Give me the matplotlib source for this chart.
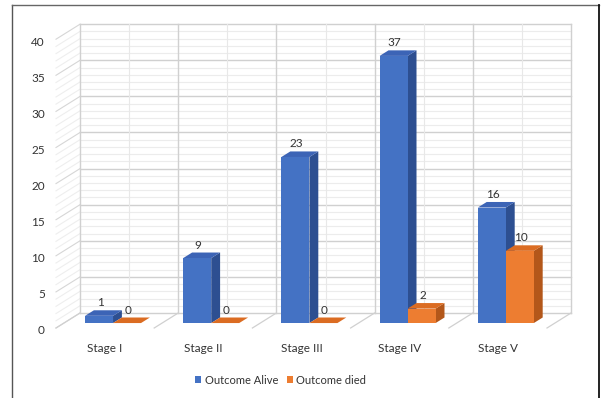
import matplotlib
matplotlib.use("Agg")
import matplotlib.pyplot as plt
from matplotlib.patches import Polygon, Patch
from matplotlib.lines import Line2D

# chart data
stages = ["Stage I", "Stage II", "Stage III", "Stage IV", "Stage V"]
alive = [1, 9, 23, 37, 16]
died = [0, 0, 0, 2, 10]
y_ticks = [0, 5, 10, 15, 20, 25, 30, 35, 40]
series_names = ["Outcome Alive", "Outcome died"]

plt.rcParams["font.family"] = ["Lato", "DejaVu Sans"]

# pixel scale of one category / one value unit on the back wall
PX_X = 98.2
PX_Y = 7.22
# oblique depth offset (wall -> front), in data units
DX = 24 / PX_X
DY = 15 / PX_Y
BAR_W = 0.285
F_FRONT, F_BACK = 0.67, 0.30
TXT = "#333333"

blue = {"front": "#4472C4", "side": "#2D4F91", "top": "#3C64B6"}
orange = {"front": "#ED7D31", "side": "#B3571A", "top": "#DB6C22"}


def proj(x, y, f):
    # f = 0 on back wall, 1 on front edge of the floor
    return (x - f * DX, y - f * DY)


fig = plt.figure(figsize=(6.06, 3.98), dpi=100)
ax = fig.add_axes([0, 0, 1, 1])
x0 = -0.5 - 80 / PX_X
y0 = -(398 - 313) / PX_Y
ax.set_xlim(x0, x0 + 606 / PX_X)
ax.set_ylim(y0, y0 + 398 / PX_Y)
ax.axis("off")

n = len(stages)
ymax = y_ticks[-1]

# back wall grid
for v in range(0, ymax + 1):
    major = v % 5 == 0
    ax.plot([-0.5, n - 0.5], [v, v], color="#D0D0D0" if major else "#ECECEC",
            lw=1.0 if major else 0.8, zorder=1)
    # side wall
    a = proj(-0.5, v, 0)
    b = proj(-0.5, v, 1)
    ax.plot([a[0], b[0]], [a[1], b[1]], color="#D6D6D6" if major else "#EEEEEE",
            lw=0.8, zorder=1)
for k in range(2 * n + 1):
    xv = -0.5 + k * 0.5
    major = k % 2 == 0
    ax.plot([xv, xv], [0, ymax], color="#D0D0D0" if major else "#E8E8E8",
            lw=1.0 if major else 0.8, zorder=1)
    if major:
        a = proj(xv, 0, 0)
        b = proj(xv, 0, 1)
        ax.plot([a[0], b[0]], [a[1], b[1]], color="#D0D0D0", lw=0.9, zorder=1)


def draw_bar(xl, val, col):
    xr = xl + BAR_W
    fx, fy = proj(xl, 0, F_FRONT)
    # side face
    side = [proj(xr, 0, F_FRONT), proj(xr, 0, F_BACK),
            proj(xr, val, F_BACK), proj(xr, val, F_FRONT)]
    ax.add_patch(Polygon(side, closed=True, facecolor=col["side"],
                         edgecolor="none", zorder=3))
    # top face
    top = [proj(xl, val, F_FRONT), proj(xl, val, F_BACK),
           proj(xr, val, F_BACK), proj(xr, val, F_FRONT)]
    ax.add_patch(Polygon(top, closed=True, facecolor=col["top"],
                         edgecolor="none", zorder=3))
    # front face
    ax.bar(fx, val, width=BAR_W, bottom=fy, align="edge",
           color=col["front"], edgecolor="none", zorder=3)
    # value label
    lx = fx + BAR_W / 2 + 1 / PX_X
    ly = val + fy + 13 / PX_Y
    ax.text(lx, ly, str(val), ha="center", va="center", fontsize=8.5,
            color=TXT, zorder=5)


for i in range(n):
    draw_bar(i - BAR_W, alive[i], blue)
    draw_bar(i, died[i], orange)

# axis labels
for v in y_ticks:
    px, py = proj(-0.5, v, 1)
    ax.text(px - 11 / PX_X, py - 3 / PX_Y, str(v), ha="right", va="center",
            fontsize=8.5, color=TXT)
for i, s in enumerate(stages):
    px, py = proj(i, 0, 1)
    ax.text(px, py - 21 / PX_Y, s, ha="center", va="center",
            fontsize=8.5, color=TXT)

handles = [Patch(facecolor=blue["front"]), Patch(facecolor=orange["front"])]
fig.legend(handles, series_names, loc="center", bbox_to_anchor=(0.463, 0.045),
           ncol=2, frameon=False, fontsize=8, handlelength=0.55,
           handleheight=0.55, handletextpad=0.3, columnspacing=0.8,
           labelcolor=TXT)

# outer frame of the picture
W, H = 606, 398
fig.add_artist(Line2D([12 / W, 12 / W], [0, 1 - 5 / H], color="#555555",
                      lw=1.0, transform=fig.transFigure))
fig.add_artist(Line2D([12 / W, 599 / W], [1 - 5 / H, 1 - 5 / H], color="#666666",
                      lw=1.0, transform=fig.transFigure))
fig.add_artist(Line2D([599 / W, 599 / W], [0, 1 - 5 / H], color="#111111",
                      lw=1.3, transform=fig.transFigure))

fig.savefig("out.png", dpi=100)
